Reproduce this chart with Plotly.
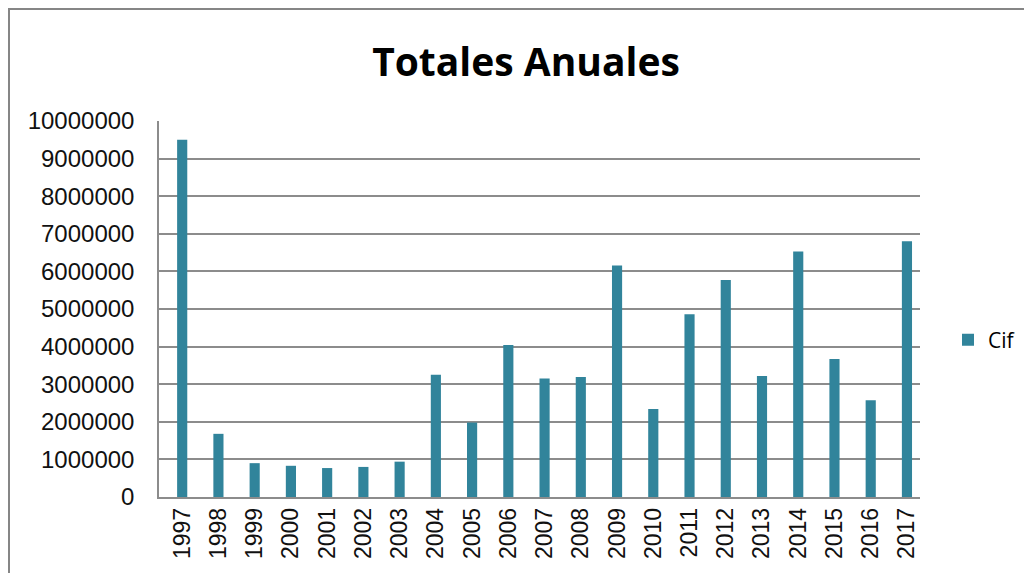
import plotly.graph_objects as go

years = [str(y) for y in range(1997, 2018)]
cif = [9500000, 1680000, 900000, 830000, 770000, 800000, 940000,
       3250000, 1980000, 4040000, 3150000, 3190000, 6160000, 2340000,
       4860000, 5770000, 3220000, 6530000, 3670000, 2570000, 6800000]
y_ticks = list(range(0, 10000001, 1000000))

# window pixels of the plot area; the page body adds an 8px offset
OFF = 8
W, H = 1032 - 2 * OFF, 581 - 2 * OFF
L, R, T, B = 159 - OFF, 920 - OFF, 121 - OFF, 497 - OFF
pw, ph = R - L, B - T


def px(x):
    return (x - OFF - L) / pw


def py(y):
    return (B - (y - OFF)) / ph


fig = go.Figure()
fig.add_trace(go.Bar(x=years, y=cif, name='Cif',
                     marker=dict(color='#31849b', line=dict(width=0)),
                     showlegend=True))

fig.update_layout(
    width=W, height=H,
    margin=dict(l=L, r=W - R, t=T, b=H - B, autoexpand=False),
    plot_bgcolor='white', paper_bgcolor='white',
    bargap=0.72,
    title=dict(text='<b>Totales Anuales</b>', x=px(526), xref='paper',
               xanchor='center', y=1 - (62 - OFF) / H, yanchor='middle',
               font=dict(family='Open Sans', size=39, color='black')),
    legend=dict(x=px(948), y=py(340), xanchor='left', yanchor='middle',
                font=dict(family='Open Sans', size=21, color='black'),
                itemwidth=30, bgcolor='rgba(0,0,0,0)'),
    font=dict(family='Liberation Sans', color='black'),
)

fig.update_xaxes(type='category', range=[-0.64, 20.36], tickangle=-90,
                 tickfont=dict(family='Liberation Sans', size=23, color='#111'),
                 showline=True, linecolor='#8c8c8c', linewidth=1.5,
                 showgrid=False, ticks='')
fig.update_yaxes(range=[0, 10000000], tickvals=y_ticks,
                 ticktext=[str(v) for v in y_ticks],
                 tickfont=dict(family='Liberation Sans', size=24, color='#111'),
                 showline=True, linecolor='#8c8c8c', linewidth=1.5,
                 showgrid=True, gridcolor='#8c8c8c', gridwidth=1.5,
                 zeroline=False, ticks='', ticklabelstandoff=18)

# outer chart frame
fig.add_shape(type='rect', xref='paper', yref='paper',
              x0=px(9), x1=px(1060), y0=py(600), y1=py(9),
              line=dict(color='#868686', width=2), layer='below')

fig.write_html("out.html")
